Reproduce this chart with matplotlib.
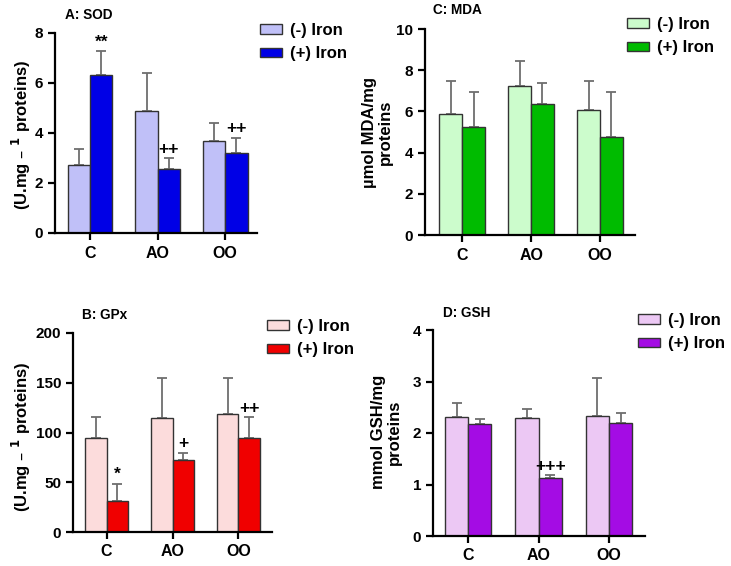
import matplotlib.pyplot as plt
import numpy as np

plt.rcParams['font.family'] = ['Liberation Sans', 'DejaVu Sans']
plt.rcParams['font.weight'] = 'bold'
plt.rcParams['mathtext.default'] = 'bf'

groups = ['C', 'AO', 'OO']
labels = ['(-) Iron', '(+) Iron']

# A: SOD
sod_minus = [2.73, 4.88, 3.70]
sod_minus_err = [0.63, 1.51, 0.72]
sod_plus = [6.33, 2.57, 3.20]
sod_plus_err = [0.94, 0.43, 0.61]
sod_marks = ['**', '++', '++']

# C: MDA
mda_minus = [5.87, 7.23, 6.05]
mda_minus_err = [1.63, 1.21, 1.45]
mda_plus = [5.23, 6.37, 4.78]
mda_plus_err = [1.71, 1.00, 2.14]
mda_marks = ['', '', '']

# B: GPx
gpx_minus = [94.5, 114.2, 118.6]
gpx_minus_err = [21.4, 40.8, 36.2]
gpx_plus = [31.5, 72.7, 94.1]
gpx_plus_err = [17.1, 7.0, 21.1]
gpx_marks = ['*', '+', '++']

# D: GSH
gsh_minus = [2.31, 2.29, 2.33]
gsh_minus_err = [0.27, 0.18, 0.74]
gsh_plus = [2.17, 1.13, 2.19]
gsh_plus_err = [0.11, 0.05, 0.19]
gsh_marks = ['', '+++', '']

fig = plt.figure(figsize=(7.31, 5.66), dpi=100)
W, H = 731, 566


def px_axes(l, t, r, b):
    return fig.add_axes([l / W, 1 - b / H, (r - l) / W, (b - t) / H])


def panel(ax, minus, minus_err, plus, plus_err, marks, colors, ymax, step,
          xlim, title, title_xy, ylabel, ylabel_xy, leg_xy):
    x = np.arange(len(groups))
    w = 0.33
    for off, vals, errs, col, lab in [(-w / 2, minus, minus_err, colors[0], labels[0]),
                                       (w / 2, plus, plus_err, colors[1], labels[1])]:
        ax.bar(x + off, vals, width=w, color=col, edgecolor='#333333',
               linewidth=1.0, label=lab, zorder=2)
        ax.errorbar(x + off, vals, yerr=[np.zeros(len(vals)), errs], fmt='none',
                    ecolor='#6e6e6e', elinewidth=1.3, capsize=3.3, capthick=1.3,
                    zorder=1)
    for i, m in enumerate(marks):
        if m:
            ax.annotate(m, (x[i] + w / 2, plus[i] + plus_err[i]), xytext=(0, 1),
                        textcoords='offset points', ha='center', va='bottom',
                        fontsize=12.5, fontweight='bold')
    ax.set_xlim(*xlim)
    ax.set_ylim(0, ymax)
    ax.set_yticks(np.arange(0, ymax + step / 2, step))
    ax.set_xticks(x)
    ax.set_xticklabels(groups)
    for s in ['top', 'right']:
        ax.spines[s].set_visible(False)
    for s in ['left', 'bottom']:
        ax.spines[s].set_linewidth(1.6)
    ax.tick_params(width=1.6, length=5, labelsize=11)
    ax.tick_params(axis='x', labelsize=11.5, pad=4)
    ax.text(title_xy[0], title_xy[1], title, transform=ax.transAxes,
            fontsize=9.8, fontweight='bold', va='center', ha='left')
    ax.set_ylabel(ylabel, fontsize=12, fontweight='bold', linespacing=1.1)
    ax.yaxis.set_label_coords(*ylabel_xy)
    ax.legend(loc='upper left', bbox_to_anchor=(leg_xy[0] / W, 1 - leg_xy[1] / H),
              bbox_transform=fig.transFigure, frameon=False, borderpad=0,
              borderaxespad=0, handlelength=1.3, handleheight=0.5,
              handletextpad=0.5, labelspacing=0.5, prop={'size': 12, 'weight': 'bold'})


unit = '(U.mg – $^{1}$ proteins)'

axA = px_axes(55, 33, 257, 233)
panel(axA, sod_minus, sod_minus_err, sod_plus, sod_plus_err, sod_marks,
      ['#c0c0f8', '#0000e6'], 8, 2, (-0.52, 2.47), 'A: SOD', (0.05, 1.09),
      unit, (-0.11, 0.49), (260, 23))

axC = px_axes(425, 29, 635, 235)
panel(axC, mda_minus, mda_minus_err, mda_plus, mda_plus_err, mda_marks,
      ['#ccfccc', '#00bb00'], 10, 2, (-0.54, 2.51), 'C: MDA', (0.04, 1.094),
      'µmol MDA/mg\nproteins', (-0.152, 0.5), (627, 17))

axB = px_axes(73, 333, 272, 532)
panel(axB, gpx_minus, gpx_minus_err, gpx_plus, gpx_plus_err, gpx_marks,
      ['#fcdcdc', '#f00000'], 200, 50, (-0.51, 2.51), 'B: GPx', (0.047, 1.09),
      unit, (-0.2, 0.48), (267, 319))

axD = px_axes(433, 330, 645, 536)
panel(axD, gsh_minus, gsh_minus_err, gsh_plus, gsh_plus_err, gsh_marks,
      ['#ecc8f4', '#a40ce4'], 4, 1, (-0.5, 2.51), 'D: GSH', (0.047, 1.083),
      'mmol GSH/mg\nproteins', (-0.146, 0.505), (638, 313))

fig.savefig('out.png', dpi=100)
